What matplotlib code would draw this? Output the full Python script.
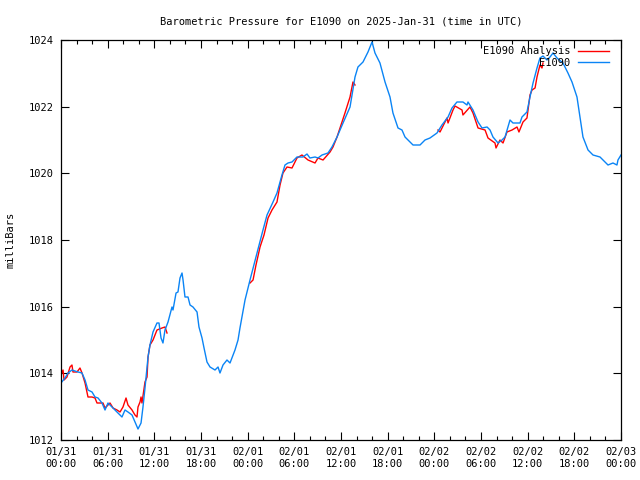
import datetime as dt

import matplotlib
matplotlib.use("Agg")
import matplotlib.pyplot as plt
import matplotlib.dates as mdates

# ── data (hours since 2025-01-31 00:00 UTC, pressure in mbar) ────────────────
OBS_HOURS = [0.0, 0.51, 0.90, 1.41, 2.19, 2.70, 3.09, 3.47, 3.99, 4.37, 4.76, 5.27,
             5.66, 6.04, 6.56, 6.94, 7.33, 7.84, 8.23, 8.61, 9.13, 9.51, 9.90, 10.29,
             10.54, 10.80, 11.06, 11.19, 11.44, 11.83, 12.34, 12.60, 12.86, 13.11,
             13.37, 13.76, 14.27, 14.40, 14.79, 15.04, 15.30, 15.56, 15.69, 15.94,
             16.33, 16.59, 16.97, 17.49, 17.74, 18.13, 18.39, 18.77, 19.16, 19.80,
             20.19, 20.44, 20.83, 21.34, 21.73, 22.37, 22.76, 23.01, 23.66, 24.30,
             25.20, 25.97, 26.49, 27.26, 27.77, 28.41, 28.80, 29.19, 29.70, 30.34,
             31.11, 31.63, 32.01, 32.66, 33.04, 33.56, 34.33, 34.84, 35.49, 36.26,
             37.16, 37.80, 38.18, 38.83, 39.47, 39.99, 40.37, 41.01, 41.66, 42.30,
             42.68, 43.33, 43.84, 44.23, 44.87, 45.26, 46.16, 46.80, 47.44, 48.34,
             48.98, 49.76, 50.27, 50.91, 51.68, 52.20, 52.33, 52.97, 53.62, 54.13,
             54.78, 55.16, 55.54, 56.19, 56.70, 57.09, 57.73, 58.11, 59.01, 59.27,
             59.91, 60.30, 60.69, 61.20, 61.58, 61.97, 62.48, 62.87, 63.26, 63.77,
             64.54, 65.18, 65.70, 66.34, 66.73, 67.11, 67.76, 68.40, 69.30, 69.94,
             70.33, 70.97, 71.48, 71.61, 72.00]
OBS_MBAR = [1013.71, 1013.86, 1014.01, 1014.10, 1014.04, 1014.01, 1013.80, 1013.50,
            1013.44, 1013.29, 1013.26, 1013.11, 1012.90, 1013.11, 1012.99, 1012.90,
            1012.81, 1012.69, 1012.90, 1012.84, 1012.75, 1012.54, 1012.33, 1012.51,
            1012.99, 1013.56, 1014.19, 1014.49, 1014.85, 1015.24, 1015.51, 1015.51,
            1015.06, 1014.91, 1015.30, 1015.54, 1015.99, 1015.90, 1016.41, 1016.44,
            1016.86, 1017.01, 1016.80, 1016.29, 1016.29, 1016.05, 1015.99, 1015.84,
            1015.39, 1015.06, 1014.76, 1014.34, 1014.19, 1014.10, 1014.19, 1014.01,
            1014.25, 1014.40, 1014.31, 1014.70, 1015.00, 1015.36, 1016.20, 1016.80,
            1017.61, 1018.30, 1018.75, 1019.14, 1019.41, 1019.95, 1020.25, 1020.31,
            1020.34, 1020.49, 1020.49, 1020.58, 1020.46, 1020.49, 1020.46, 1020.55,
            1020.61, 1020.79, 1021.09, 1021.51, 1021.99, 1022.89, 1023.19, 1023.34,
            1023.64, 1023.94, 1023.61, 1023.31, 1022.74, 1022.29, 1021.81, 1021.36,
            1021.30, 1021.09, 1020.94, 1020.85, 1020.85, 1021.00, 1021.06, 1021.21,
            1021.45, 1021.69, 1021.96, 1022.14, 1022.14, 1022.05, 1022.14, 1021.90,
            1021.54, 1021.36, 1021.39, 1021.30, 1021.09, 1020.91, 1021.00, 1021.09,
            1021.60, 1021.51, 1021.51, 1021.69, 1021.84, 1022.29, 1022.71, 1023.16,
            1023.46, 1023.52, 1023.40, 1023.49, 1023.61, 1023.46, 1023.31, 1023.01,
            1022.74, 1022.29, 1021.69, 1021.09, 1020.70, 1020.55, 1020.49, 1020.34,
            1020.25, 1020.31, 1020.25, 1020.40, 1020.55]

# analysis comes in three separate pieces
ANA1_HOURS = [0.0, 0.26, 0.39, 0.77, 1.16, 1.41, 1.54, 2.06, 2.44, 2.70, 3.09, 3.47,
              3.99, 4.37, 4.63, 5.40, 5.66, 6.30, 6.69, 7.20, 7.59, 7.97, 8.36, 8.61,
              9.13, 9.51, 9.77, 9.90, 10.16, 10.29, 10.41, 10.80, 11.06, 11.19, 11.44,
              11.83, 12.34, 12.99, 13.37, 13.63]
ANA1_MBAR = [1013.95, 1014.10, 1013.80, 1013.89, 1014.19, 1014.25, 1014.04, 1014.04,
             1014.16, 1014.01, 1013.71, 1013.29, 1013.29, 1013.26, 1013.11, 1013.11,
             1012.96, 1013.11, 1012.96, 1012.90, 1012.84, 1012.99, 1013.26, 1013.05,
             1012.90, 1012.75, 1012.69, 1012.99, 1013.14, 1013.29, 1013.11, 1013.74,
             1013.89, 1014.49, 1014.85, 1015.00, 1015.30, 1015.36, 1015.39, 1015.21]
ANA2_HOURS = [24.30, 24.69, 25.07, 25.59, 26.10, 26.62, 27.13, 27.77, 28.16, 28.54,
              29.06, 29.70, 30.34, 30.98, 31.76, 32.66, 33.04, 33.69, 34.59, 34.97,
              35.49, 36.51, 37.16, 37.54, 37.80]
ANA2_MBAR = [1016.71, 1016.80, 1017.25, 1017.79, 1018.15, 1018.66, 1018.90, 1019.14,
             1019.65, 1020.01, 1020.19, 1020.16, 1020.46, 1020.55, 1020.40, 1020.31,
             1020.46, 1020.40, 1020.64, 1020.79, 1021.09, 1021.81, 1022.29, 1022.74,
             1022.65]
ANA3_HOURS = [48.47, 48.73, 49.63, 49.76, 50.40, 50.66, 51.56, 51.68, 52.58, 52.97,
              53.62, 54.52, 54.90, 55.80, 55.93, 56.44, 56.83, 57.34, 57.99, 58.63,
              58.88, 59.40, 59.91, 60.30, 60.56, 60.95, 61.20, 61.58, 61.84, 61.97]
ANA3_MBAR = [1021.30, 1021.24, 1021.66, 1021.51, 1021.90, 1022.02, 1021.90, 1021.75,
             1021.99, 1021.81, 1021.36, 1021.30, 1021.06, 1020.91, 1020.76, 1021.00,
             1020.91, 1021.24, 1021.30, 1021.39, 1021.24, 1021.54, 1021.66, 1022.35,
             1022.50, 1022.56, 1022.89, 1023.25, 1023.16, 1023.31]

T0 = dt.datetime(2025, 1, 31)


def to_time(hours):
    return [T0 + dt.timedelta(hours=h) for h in hours]


plt.rcParams["font.family"] = "DejaVu Sans Mono"
plt.rcParams["font.size"] = 7.5

fig = plt.figure(figsize=(6.4, 4.8), dpi=100)
ax = fig.add_axes([61 / 640, 40 / 480, 560 / 640, 400 / 480])

RED = "#ff0000"
BLUE = "#0a84f5"
lw = 1.0

ax.plot(to_time(ANA1_HOURS), ANA1_MBAR, color=RED, lw=lw, label="E1090 Analysis")
ax.plot(to_time(ANA2_HOURS), ANA2_MBAR, color=RED, lw=lw)
ax.plot(to_time(ANA3_HOURS), ANA3_MBAR, color=RED, lw=lw)
ax.plot(to_time(OBS_HOURS), OBS_MBAR, color=BLUE, lw=lw, label="E1090")

ax.set_xlim(T0, T0 + dt.timedelta(hours=72))
ax.set_ylim(1012, 1024)
ax.set_yticks(range(1012, 1025, 2))
ax.xaxis.set_major_locator(mdates.HourLocator(byhour=range(0, 24, 6)))
ax.xaxis.set_minor_locator(mdates.HourLocator(byhour=range(0, 24, 2)))
ax.xaxis.set_major_formatter(mdates.DateFormatter("%m/%d\n%H:%M"))
ax.tick_params(which="both", direction="in", top=True, right=True, color="black")
ax.tick_params(which="major", length=6, width=0.8, pad=5)
ax.tick_params(which="minor", length=3, width=0.8)
for s in ax.spines.values():
    s.set_linewidth(0.9)

ax.set_ylabel("milliBars", labelpad=10)
ax.set_title("Barometric Pressure for E1090 on 2025-Jan-31 (time in UTC)",
             fontsize=7.5, pad=11)

ax.legend(loc="upper right", bbox_to_anchor=(0.99, 1.0), frameon=False,
          markerfirst=False, handlelength=3.0, handletextpad=0.7,
          labelspacing=0.15, borderaxespad=0.2)

fig.savefig("out.png", dpi=100)
